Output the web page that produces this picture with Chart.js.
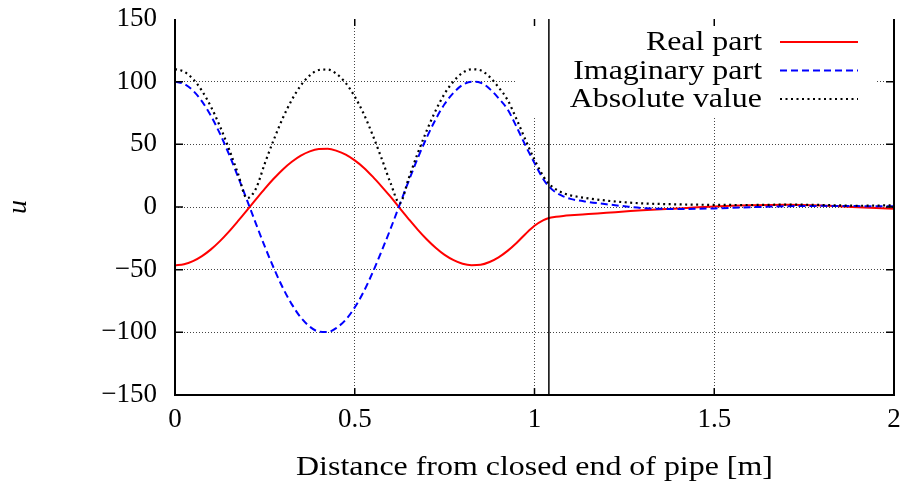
<!DOCTYPE html>
<html>
<head>
<meta charset="utf-8">
<script src="https://cdn.jsdelivr.net/npm/chart.js@4/dist/chart.umd.min.js"></script>
<style>
  html, body { margin: 0; padding: 0; background: #ffffff; }
  #wrap { width: 905px; height: 490px; }
</style>
</head>
<body>
<div id="wrap"><canvas id="c" width="905" height="490"></canvas></div>
<script>
// Sample positions along the pipe [m]
const distance = [
  0, 0.025, 0.05, 0.075, 0.1, 0.125, 0.15, 0.175, 0.2, 0.225,
  0.25, 0.275, 0.3, 0.325, 0.35, 0.375, 0.4, 0.425, 0.45, 0.475,
  0.5, 0.525, 0.55, 0.575, 0.6, 0.625, 0.65, 0.675, 0.7, 0.725,
  0.75, 0.775, 0.8, 0.825, 0.85, 0.875, 0.9, 0.925, 0.95, 0.975,
  1.0, 1.025, 1.04, 1.06, 1.08, 1.1, 1.15, 1.2, 1.25, 1.3,
  1.4, 1.5, 1.6, 1.7, 1.8, 1.9, 2.0
];

// Real part of u
const realPart = [
  -46.5, -45.7, -43.2, -39.2, -33.8, -27.2, -19.6, -11.3, -2.7, 6.1,
  14.7, 22.7, 30.0, 36.1, 41.0, 44.4, 46.2, 46.4, 44.8, 41.8,
  37.2, 31.4, 24.2, 16.3, 8.0, -0.9, -9.6, -18.0, -25.7, -32.5,
  -38.2, -42.4, -45.3, -46.4, -46.1, -43.9, -40.2, -35.0, -28.7, -21.5,
  -15.0, -10.5, -8.8, -7.8, -7.1, -6.6, -5.6, -4.6, -3.6, -2.6,
  -1.1, 0.4, 1.3, 1.7, 1.1, -0.2, -1.3
];

// Imaginary part of u
const imagPart = [
  100, 98.2, 92.9, 84.3, 72.7, 58.5, 42.2, 24.3, 5.7, -13.2,
  -31.7, -48.9, -64.5, -77.7, -88.2, -95.5, -99.4, -99.7, -96.3, -89.9,
  -80.1, -67.5, -52.1, -35.0, -17.1, 1.9, 20.7, 38.8, 55.3, 69.9,
  82.2, 91.2, 97.4, 99.9, 99.2, 94.4, 86.8, 78.0, 64.0, 49.0,
  35.0, 22.0, 16.4, 11.5, 8.5, 6.5, 4.0, 2.2, 0.6, -0.8,
  -1.6, -1.1, -0.2, 0.6, 0.9, 0.7, 0.5
];

// Absolute value of u
const absValue = [
  110, 108, 102.2, 92.7, 80.0, 64.4, 46.4, 26.8, 7.0, 14.6,
  34.9, 53.8, 71.0, 85.5, 97.0, 105.0, 109.3, 109.7, 106.0, 98.9,
  88.1, 74.3, 57.3, 38.5, 18.8, 3.0, 22.8, 42.7, 60.8, 76.9,
  90.4, 100.3, 107.1, 109.9, 109.1, 103.8, 95.5, 85.5, 70.1, 53.5,
  37.7, 24.4, 18.6, 14.0, 11.1, 9.3, 6.9, 5.1, 3.8, 2.9,
  2.1, 1.7, 1.6, 1.9, 1.6, 1.0, 1.4
];

// Axis ticks
const xTicks = [0, 0.5, 1, 1.5, 2];
const yTicks = [-150, -100, -50, 0, 50, 100, 150];

// Position of the open pipe end [m]
const pipeEnd = 1.04;

const seriesNames = ['Real part', 'Imaginary part', 'Absolute value'];

const TICK_FONT = { family: '"Liberation Serif", "Times New Roman", serif', size: 27 };
const TEXT_FAMILY = '"Liberation Serif", "Times New Roman", serif';
const TEXT_STRETCH = 1.14;

function pts(ys) {
  return distance.map((x, i) => ({ x: x, y: ys[i] }));
}

function stretchedText(ctx, text, x, y, align) {
  ctx.save();
  ctx.translate(x, y);
  ctx.scale(TEXT_STRETCH, 1);
  ctx.textAlign = align;
  ctx.textBaseline = 'alphabetic';
  ctx.fillText(text, 0, 0);
  ctx.restore();
}

// Frame (left, bottom, right), inward ticks, key and x-axis title
const framePlugin = {
  id: 'frame',
  beforeDatasetsDraw(chart) {
    const { ctx, chartArea: a } = chart;
    // opaque key area
    ctx.save();
    ctx.fillStyle = '#ffffff';
    ctx.fillRect(a.right - 377, a.top + 8, 360, 91);
    ctx.restore();
  },
  afterDatasetsDraw(chart) {
    const { ctx, chartArea: a, scales } = chart;
    const xs = scales.x, ys = scales.y;
    ctx.save();

    // key
    ctx.font = '28px ' + TEXT_FAMILY;
    ctx.fillStyle = '#000000';
    chart.data.datasets.forEach((ds, i) => {
      const base = a.top + 31 + i * 28.5;
      stretchedText(ctx, ds.label, a.right - 132, base, 'right');
      ctx.save();
      ctx.strokeStyle = ds.borderColor;
      ctx.lineWidth = ds.borderWidth;
      ctx.setLineDash(ds.borderDash || []);
      ctx.beginPath();
      ctx.moveTo(a.right - 114, base - 8);
      ctx.lineTo(a.right - 36, base - 8);
      ctx.stroke();
      ctx.restore();
    });

    // pipe end marker
    const pe = xs.getPixelForValue(pipeEnd);
    ctx.strokeStyle = '#000000';
    ctx.lineWidth = 1.5;
    ctx.beginPath();
    ctx.moveTo(pe, a.top);
    ctx.lineTo(pe, a.bottom);
    ctx.stroke();

    // border
    ctx.lineWidth = 2;
    ctx.beginPath();
    ctx.moveTo(a.left, a.top);
    ctx.lineTo(a.left, a.bottom);
    ctx.lineTo(a.right, a.bottom);
    ctx.lineTo(a.right, a.top);
    ctx.stroke();

    // inward ticks
    ctx.lineWidth = 1.5;
    ctx.beginPath();
    xTicks.forEach(v => {
      if (v === xs.min || v === xs.max) return;
      const px = xs.getPixelForValue(v);
      ctx.moveTo(px, a.bottom); ctx.lineTo(px, a.bottom - 7);
      ctx.moveTo(px, a.top); ctx.lineTo(px, a.top + 7);
    });
    yTicks.forEach(v => {
      if (v === ys.min || v === ys.max) return;
      const py = ys.getPixelForValue(v);
      ctx.moveTo(a.left, py); ctx.lineTo(a.left + 8, py);
      ctx.moveTo(a.right, py); ctx.lineTo(a.right - 8, py);
    });
    ctx.stroke();

    // x-axis title
    ctx.font = '28px ' + TEXT_FAMILY;
    ctx.fillStyle = '#000000';
    stretchedText(ctx, 'Distance from closed end of pipe [m]', (a.left + a.right) / 2, a.bottom + 80, 'center');

    ctx.restore();
  }
};

const gridColor = (edgeA, edgeB) => (c) =>
  (c.tick && (c.tick.value === edgeA || c.tick.value === edgeB)) ? 'rgba(0,0,0,0)' : '#444444';

new Chart(document.getElementById('c'), {
  type: 'line',
  data: {
    datasets: [
      {
        label: seriesNames[0],
        data: pts(realPart),
        borderColor: '#ff0000',
        borderWidth: 2,
        order: 3
      },
      {
        label: seriesNames[1],
        data: pts(imagPart),
        borderColor: '#0000ff',
        borderWidth: 2,
        borderDash: [7, 4],
        order: 2
      },
      {
        label: seriesNames[2],
        data: pts(absValue),
        borderColor: '#000000',
        borderWidth: 2.2,
        borderDash: [2, 3.5],
        order: 1
      }
    ]
  },
  options: {
    responsive: false,
    animation: false,
    events: [],
    layout: { padding: { left: 0, right: 11, top: 19, bottom: 0 } },
    elements: {
      point: { radius: 0 },
      line: { cubicInterpolationMode: 'monotone', fill: false }
    },
    plugins: {
      legend: { display: false },
      tooltip: { enabled: false }
    },
    scales: {
      x: {
        type: 'linear',
        min: 0,
        max: 2,
        afterBuildTicks(s) { s.ticks = xTicks.map(v => ({ value: v })); },
        afterFit(s) { s.height = 95; s.paddingLeft = 0; s.paddingRight = 0; },
        ticks: {
          font: TICK_FONT,
          color: '#000000',
          padding: 9,
          maxRotation: 0,
          callback: (v) => String(v)
        },
        grid: {
          color: gridColor(0, 2),
          lineWidth: 1,
          drawTicks: false
        },
        border: { display: false, dash: [1, 2] }
      },
      y: {
        type: 'linear',
        min: -150,
        max: 150,
        afterBuildTicks(s) { s.ticks = yTicks.map(v => ({ value: v })); },
        afterFit(s) { s.width = 175; s.paddingTop = 0; s.paddingBottom = 0; },
        ticks: {
          font: TICK_FONT,
          color: '#000000',
          padding: 18,
          callback: (v) => String(v).replace('-', '\u2212')
        },
        grid: {
          color: gridColor(-150, 150),
          lineWidth: 1,
          drawTicks: false
        },
        border: { display: false, dash: [1, 2] },
        title: {
          display: true,
          text: 'u',
          color: '#000000',
          font: { family: TEXT_FAMILY, size: 28, style: 'italic' },
          padding: { top: 2, bottom: 0 }
        }
      }
    }
  },
  plugins: [framePlugin]
});
</script>
</body>
</html>
